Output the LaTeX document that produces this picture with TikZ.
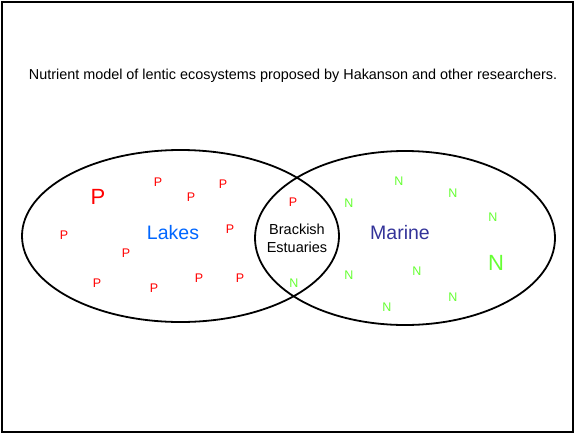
\documentclass[tikz,border=0pt]{standalone}
\usepackage{xcolor}
\usepackage{fontspec}
\setmainfont{Liberation Sans}
\usepackage{tikz}

\definecolor{pred}{RGB}{255,0,0}
\definecolor{ngreen}{RGB}{102,255,51}
\definecolor{lakeblue}{RGB}{0,102,255}
\definecolor{seablue}{RGB}{51,51,153}

\tikzset{
    pmark/.style={text=pred, font=\fontsize{12.5}{14}\selectfont, inner sep=0pt},
    nmark/.style={text=ngreen, font=\fontsize{12.5}{14}\selectfont, inner sep=0pt},
    bigmark/.style={font=\fontsize{22}{24}\selectfont},
    zone/.style={draw, line width=1.8pt}
}

\begin{document}
\begin{tikzpicture}[x=1pt, y=-1pt]
            \useasboundingbox (0,0) rectangle (575,434);
            \draw [line width=2pt] (2,2) rectangle (573,432);

            \node (title) at (293,76) {\fontsize{14.4}{16}\selectfont Nutrient model of lentic ecosystems proposed by Hakanson and other researchers.};

            \draw [zone] (180.5,236) ellipse (158.5 and 86);
            \draw [zone] (405,238) ellipse (150 and 87);

            \node [text=lakeblue, font=\fontsize{19.5}{22}\selectfont] (lakes) at (173,233) {Lakes};
            \node [text=seablue, font=\fontsize{19.5}{22}\selectfont] (marine) at (400,233) {Marine};
            \node [align=center, font=\fontsize{14.5}{18}\selectfont] (brackish) at (297,238) {Brackish\\Estuaries};

            % phosphorus
            \node [pmark, bigmark] (p1) at (98,197) {P};
            \node [pmark] (p2) at (158,182) {P};
            \node [pmark] (p3) at (191,197) {P};
            \node [pmark] (p4) at (223,184) {P};
            \node [pmark] (p5) at (64,235) {P};
            \node [pmark] (p6) at (230,229) {P};
            \node [pmark] (p7) at (126,253) {P};
            \node [pmark] (p8) at (97,283) {P};
            \node [pmark] (p9) at (154,288) {P};
            \node [pmark] (p10) at (199,278) {P};
            \node [pmark] (p11) at (240,278) {P};
            \node [pmark] (p12) at (293,202) {P};

            % nitrogen
            \node [nmark] (n1) at (399,181) {N};
            \node [nmark] (n2) at (453,193) {N};
            \node [nmark] (n3) at (349,203) {N};
            \node [nmark] (n4) at (493,217) {N};
            \node [nmark, bigmark] (n5) at (496,263) {N};
            \node [nmark] (n6) at (349,275) {N};
            \node [nmark] (n7) at (417,271) {N};
            \node [nmark] (n8) at (453,297) {N};
            \node [nmark] (n9) at (387,307) {N};
            \node [nmark] (n10) at (294,283) {N};

        \end{tikzpicture}
\end{document}
